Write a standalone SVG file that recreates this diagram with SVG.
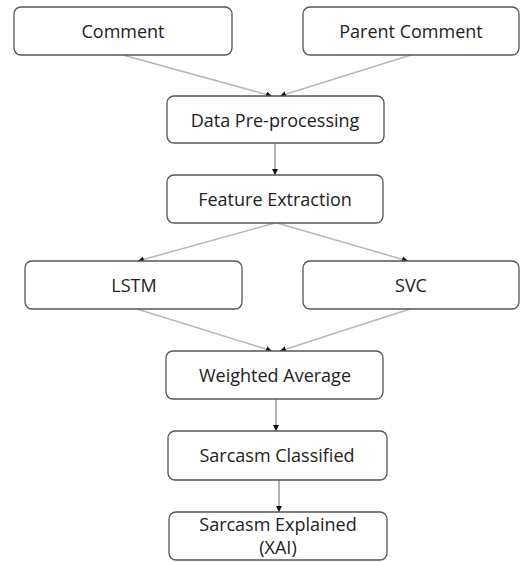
<svg xmlns="http://www.w3.org/2000/svg" width="520" height="562" viewBox="0 0 520 562">
<style>
.box{fill:#fff;stroke:#555;stroke-width:1.3}
.t{font-family:"Open Sans","Liberation Sans",sans-serif;font-size:18px;fill:#222;text-anchor:middle}
.c{stroke:#b8b8b8;stroke-width:1.5;fill:none}
.v{stroke:#666;stroke-width:1;fill:none}
</style>
<defs>
<marker id="ah" viewBox="0 0 10 10" refX="10" refY="5" markerWidth="6" markerHeight="6" orient="auto" markerUnits="userSpaceOnUse">
<path d="M0,0 L10,5 L0,10 Z" fill="#111"/>
</marker>
</defs>
<rect width="520" height="562" fill="#fff"/>
<g id="connectors">
<line class="c" x1="123" y1="55" x2="272" y2="96" marker-end="url(#ah)"/>
<line class="c" x1="411" y1="55" x2="280" y2="96" marker-end="url(#ah)"/>
<line class="v" x1="275" y1="143" x2="275" y2="175" marker-end="url(#ah)"/>
<line class="c" x1="275" y1="223" x2="138" y2="261" marker-end="url(#ah)"/>
<line class="c" x1="277" y1="223" x2="408" y2="261" marker-end="url(#ah)"/>
<line class="c" x1="137" y1="309" x2="272" y2="351" marker-end="url(#ah)"/>
<line class="c" x1="410" y1="309" x2="280" y2="351" marker-end="url(#ah)"/>
<line class="v" x1="276" y1="399" x2="276" y2="431" marker-end="url(#ah)"/>
<line class="v" x1="279" y1="480" x2="279" y2="512" marker-end="url(#ah)"/>
</g>
<g id="comment"><rect class="box" x="14" y="7" width="218" height="48" rx="7"/><text class="t" x="123" y="38">Comment</text></g>
<g id="parent-comment"><rect class="box" x="303" y="7" width="216" height="48" rx="7"/><text class="t" x="411" y="38">Parent Comment</text></g>
<g id="data-preprocessing"><rect class="box" x="167" y="96" width="217" height="47" rx="7"/><text class="t" x="275" y="127">Data Pre-processing</text></g>
<g id="feature-extraction"><rect class="box" x="167" y="175" width="216" height="48" rx="7"/><text class="t" x="275" y="206">Feature Extraction</text></g>
<g id="lstm"><rect class="box" x="25" y="261" width="217" height="48" rx="7"/><text class="t" x="134" y="292">LSTM</text></g>
<g id="svc"><rect class="box" x="303" y="261" width="216" height="48" rx="7"/><text class="t" x="411" y="292">SVC</text></g>
<g id="weighted-average"><rect class="box" x="166" y="351" width="217" height="48" rx="7"/><text class="t" x="275" y="382">Weighted Average</text></g>
<g id="sarcasm-classified"><rect class="box" x="168" y="431" width="219" height="49" rx="7"/><text class="t" x="277" y="462">Sarcasm Classified</text></g>
<g id="sarcasm-explained"><rect class="box" x="169" y="512" width="218" height="48" rx="7"/><text class="t" x="278" y="531">Sarcasm Explained</text><text class="t" x="278" y="554">(XAI)</text></g>
</svg>
